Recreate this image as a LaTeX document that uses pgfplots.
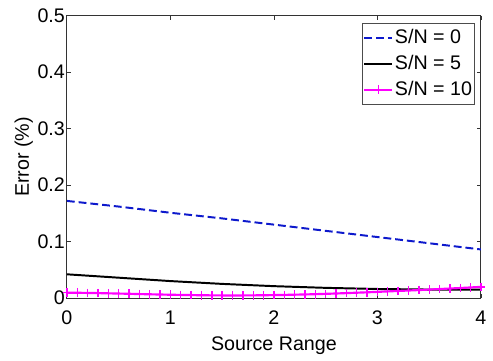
\documentclass[border=0pt]{standalone}
\usepackage{pgfplots}
\pgfplotsset{compat=1.18}
\usepackage{fontspec}
\setmainfont{Liberation Sans}
\definecolor{snblue}{rgb}{0.05,0.1,0.8}
\definecolor{snmag}{rgb}{1,0,1}

\begin{document}
\begin{tikzpicture}
\begin{axis}[
  width=210.5pt, height=143.5pt,
  scale only axis,
  xmin=0, xmax=4, ymin=0, ymax=0.5,
  xtick={0,1,2,3,4},
  ytick={0,0.1,0.2,0.3,0.4,0.5},
  yticklabels={0,0.1,0.2,0.3,0.4,0.5},
  tick align=inside,
  major tick length=2pt,
  tick style={black!80, line width=0.4pt},
  axis line style={black!80, line width=0.5pt},
  every tick label/.append style={font=\fontsize{10}{12}\selectfont},
  /pgf/number format/assume math mode=true,
  xticklabel style={yshift=-3pt},
  yticklabel style={xshift=2.5pt},
  xlabel={Source Range},
  ylabel={Error (\%)},
  label style={font=\fontsize{10}{12}\selectfont},
  xlabel style={yshift=1pt},
  ylabel style={yshift=-4.5pt},
  legend style={at={(rel axis cs:1,1)}, xshift=-3pt, yshift=-3.5pt,
    anchor=north east, draw=black!70, line width=0.5pt,
    font=\fontsize{10}{12}\selectfont, inner xsep=0.5pt, inner ysep=2pt,
    row sep=2.5pt, column sep=0pt, cells={anchor=west},
    nodes={inner xsep=0.8pt, inner ysep=1pt}},
  legend image code/.code={
    \draw[mark repeat=2, mark phase=2, #1] plot coordinates {(0cm,0cm) (0.25cm,0cm) (0.5cm,0cm)};
  },
]
% S/N = 0
\addplot[snblue, line width=1pt, dash pattern=on 4pt off 2pt] coordinates {
  (0.0,0.172) (0.5,0.162) (1.0,0.151) (1.5,0.141) (2.0,0.130)
  (2.5,0.119) (3.0,0.108) (3.5,0.097) (4.0,0.086)
};
\addlegendentry{S/N = 0}
% S/N = 5
\addplot[black, line width=1pt] coordinates {
  (0.0,0.042) (0.5,0.036) (1.0,0.030) (1.5,0.025) (2.0,0.021)
  (2.5,0.018) (3.0,0.016) (3.5,0.015) (4.0,0.015)
};
\addlegendentry{S/N = 5}
% S/N = 10
\addplot[snmag, line width=1.1pt, mark=+, mark size=2.2pt,
  mark options={line width=0.7pt}] coordinates {
  (0.0,0.0095) (0.1,0.0093) (0.2,0.0090) (0.3,0.0087) (0.4,0.0083)
  (0.5,0.0079) (0.6,0.0075) (0.7,0.0070) (0.8,0.0066) (0.9,0.0062)
  (1.0,0.0058) (1.1,0.0055) (1.2,0.0052) (1.3,0.0049) (1.4,0.0047)
  (1.5,0.0046) (1.6,0.0046) (1.7,0.0046) (1.8,0.0047) (1.9,0.0049)
  (2.0,0.0052) (2.1,0.0055) (2.2,0.0059) (2.3,0.0063) (2.4,0.0068)
  (2.5,0.0074) (2.6,0.0080) (2.7,0.0087) (2.8,0.0094) (2.9,0.0101)
  (3.0,0.0109) (3.1,0.0117) (3.2,0.0125) (3.3,0.0133) (3.4,0.0141)
  (3.5,0.0150) (3.6,0.0159) (3.7,0.0168) (3.8,0.0177) (3.9,0.0187)
  (4.0,0.0197)
};
\addlegendentry{S/N = 10}
\end{axis}
% page frame around the axis
\path (current axis.south west) ++(-34pt,-26.5pt) coordinate (bl);
\path (current axis.north east) ++(2pt,8pt) coordinate (tr);
\path (bl) rectangle (tr);
\end{tikzpicture}
\end{document}
